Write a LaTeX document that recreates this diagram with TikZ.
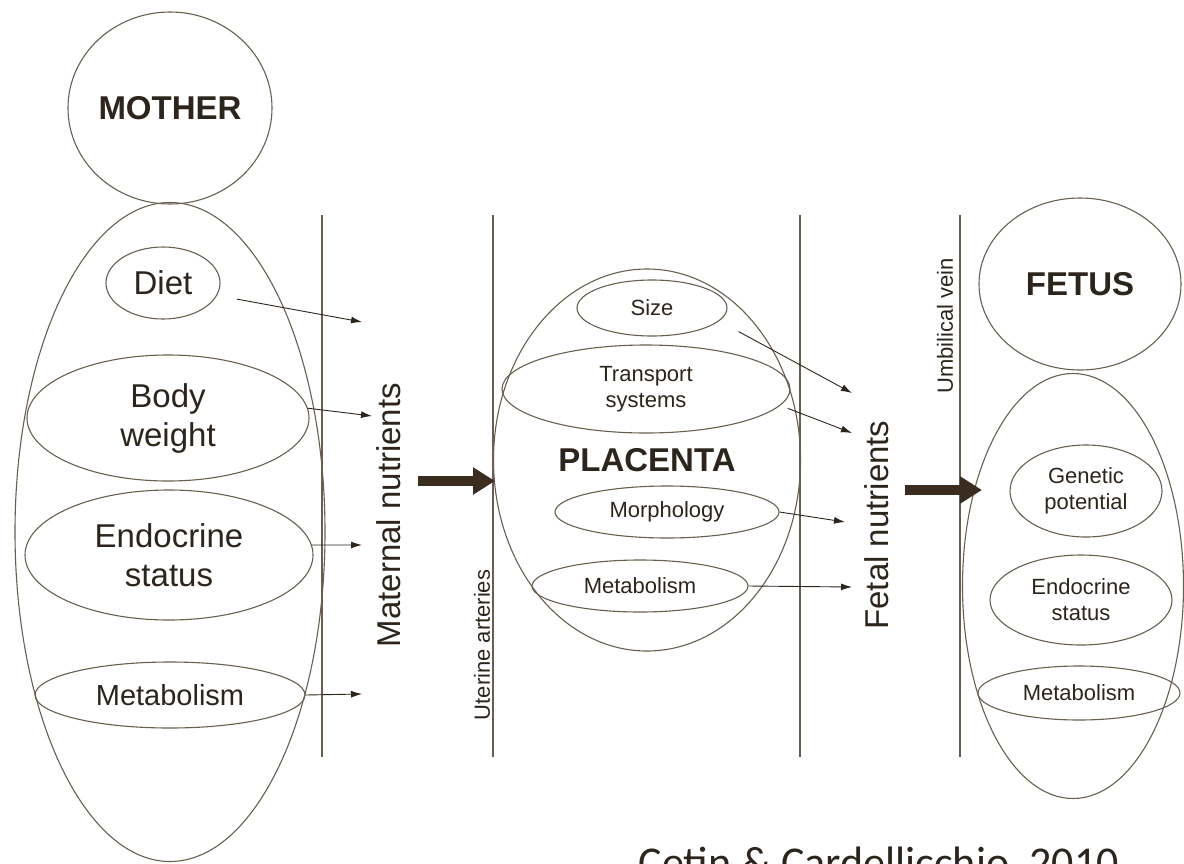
\documentclass[tikz,border=0pt]{standalone}
\usepackage{fontspec}
\setmainfont{Liberation Sans}
\newfontfamily\citefont{Carlito}
\usetikzlibrary{shapes.geometric,arrows.meta}
\definecolor{ink}{RGB}{45,37,28}
\definecolor{rim}{RGB}{105,95,80}
\definecolor{bar}{RGB}{58,44,30}
\tikzset{every path/.style={rim, line width=1.1pt},
  blob/.style={draw=rim, ellipse, inner sep=0pt, text=ink, align=center, font=\fontsize{22}{26}\selectfont},
  big/.style={blob, font=\fontsize{33}{39}\selectfont},
  hd/.style={blob, font=\bfseries\fontsize{33}{39}\selectfont},
  lab/.style={rotate=90, text=ink, inner sep=0pt},
  wall/.style={draw=rim, line width=1.6pt},
  tip/.style={-{Latex[length=11pt,width=7pt]}, draw=ink, line width=0.9pt},
  fat/.style={-{Triangle[length=22pt,width=26pt]}, draw=bar, line width=10pt}}

\begin{document}
\begin{tikzpicture}[x=1pt,y=-1pt]
  \useasboundingbox (0,0) rectangle (1184,863);
  \node[hd, minimum width=204pt, minimum height=192pt] (mom) at (170,108) {MOTHER};
  \node[blob, minimum width=310pt, minimum height=659pt] (momb) at (170,532) {};
  \node[big, minimum width=114pt, minimum height=72pt] (diet) at (163,283) {Diet};
  \node[big, minimum width=282pt, minimum height=126pt] (bw) at (168,418) {Body\\weight};
  \node[big, minimum width=288pt, minimum height=130pt] (endo) at (169,555) {Endocrine\\status};
  \node[blob, font=\fontsize{29}{35}\selectfont, minimum width=270pt, minimum height=66pt] (mmet) at (170,695) {Metabolism};

  \node[hd, minimum width=307pt, minimum height=382pt] (plac) at (647,460) {PLACENTA};
  \node[blob, minimum width=150pt, minimum height=56pt] (size) at (652,308) {Size};
  \node[blob, minimum width=288pt, minimum height=88pt] (trans) at (646,389) {Transport\\systems};
  \node[blob, minimum width=224pt, minimum height=52pt] (morph) at (667,512) {Morphology};
  \node[blob, minimum width=216pt, minimum height=52pt] (pmet) at (640,586) {Metabolism};

  \node[hd, minimum width=202pt, minimum height=172pt] (fet) at (1080,284) {FETUS};
  \node[blob, minimum width=221pt, minimum height=425pt] (fetb) at (1073,586) {};
  \node[blob, minimum width=152pt, minimum height=92pt] (gen) at (1086,491) {Genetic\\potential};
  \node[blob, minimum width=182pt, minimum height=90pt] (fendo) at (1081,600) {Endocrine\\status};
  \node[blob, minimum width=202pt, minimum height=54pt] (fmet) at (1079,693) {Metabolism};

  \foreach \x in {322,493,800,960}
    \draw[wall] (\x,215) -- (\x,757);

  \node[lab, font=\fontsize{33}{39}\selectfont] (matn) at (389,515) {Maternal nutrients};
  \node[lab, font=\fontsize{33}{39}\selectfont] (fetn) at (877,525) {Fetal nutrients};
  \node[lab, font=\fontsize{22}{26}\selectfont] (uter) at (482,645) {Uterine arteries};
  \node[lab, font=\fontsize{22}{26}\selectfont] (umb) at (945,326) {Umbilical vein};

  \coordinate (m1) at (362,322); \coordinate (m2) at (372,416);
  \coordinate (m3) at (362,545); \coordinate (m4) at (362,694);
  \coordinate (f1) at (852,393); \coordinate (f2) at (852,433);
  \coordinate (f3) at (845,522); \coordinate (f4) at (852,587);
  \foreach \a/\b/\s in {diet.-13/m1/20, bw.4/m2/0, endo.4/m3/0, mmet.east/m4/0,
      size.-11/f1/22, trans.-7/f2/8, morph.east/f3/0, pmet.east/f4/0}
    \draw[tip, shorten <=\s pt] (\a) -- (\b);

  \coordinate (ma) at (418,481); \coordinate (mb) at (495,481);
  \coordinate (fa) at (905,490); \coordinate (fb) at (982,490);
  \draw[fat] (ma) -- (mb);
  \draw[fat] (fa) -- (fb);

  \node[anchor=base west, text=ink, inner sep=0pt, font=\citefont\fontsize{44}{50}\selectfont] (cite) at (638,877) {Cetin \& Cardellicchio, 2010};
\end{tikzpicture}
\end{document}
